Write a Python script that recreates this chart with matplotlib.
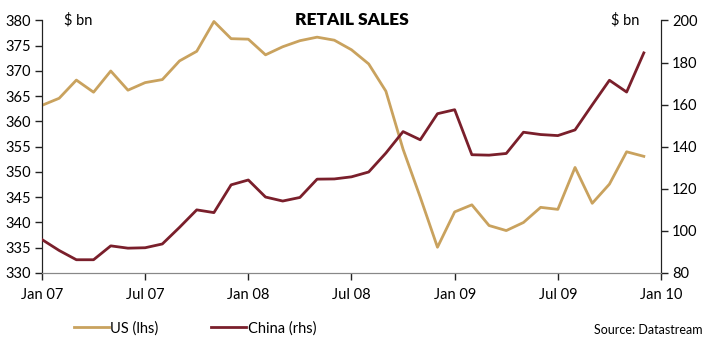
import matplotlib
matplotlib.use("Agg")
import matplotlib.pyplot as plt
from matplotlib.ticker import MultipleLocator, FixedLocator

plt.rcParams['font.family'] = ['Lato', 'DejaVu Sans']

# Monthly retail sales, Jan 2007 - Dec 2009 ($ bn)
months = list(range(36))
us_sales = [363.2, 364.6, 368.2, 365.8, 370.0, 366.2, 367.7, 368.3, 372.0, 373.9,
            379.8, 376.4, 376.3, 373.2, 374.8, 376.0, 376.7, 376.1, 374.2, 371.4,
            366.0, 354.5, 345.0, 335.1, 342.1, 343.5, 339.4, 338.4, 340.0, 343.0,
            342.6, 350.9, 343.8, 347.6, 354.0, 353.1]
china_sales = [95.9, 90.7, 86.3, 86.3, 92.9, 91.8, 92.0, 93.8, 101.7, 110.0,
               108.7, 121.9, 124.2, 116.1, 114.2, 115.9, 124.6, 124.7, 125.7, 128.0,
               137.0, 147.2, 143.3, 155.7, 157.6, 136.2, 136.0, 136.8, 146.9, 145.8,
               145.3, 148.0, 159.9, 171.6, 166.0, 184.6]
tick_pos = [0, 6, 12, 18, 24, 30, 36]
tick_labels = ["Jan 07", "Jul 07", "Jan 08", "Jul 08", "Jan 09", "Jul 09", "Jan 10"]

US_COLOR = "#C9A25E"
CN_COLOR = "#7A1F2B"

fig = plt.figure(figsize=(7.15, 3.45), dpi=100)
ax = fig.add_axes([0.0587, 0.2087, 0.8658, 0.7319])
ax2 = ax.twinx()

l1, = ax.plot(months, us_sales, color=US_COLOR, lw=2.0, label="US (lhs)", zorder=3)
l2, = ax2.plot(months, china_sales, color=CN_COLOR, lw=2.0, label="China (rhs)", zorder=3)

ax.set_xlim(0, 36)
ax.set_ylim(330, 380)
ax2.set_ylim(80, 200)
ax.yaxis.set_major_locator(MultipleLocator(5))
ax2.yaxis.set_major_locator(MultipleLocator(20))
ax.xaxis.set_major_locator(FixedLocator(tick_pos))
ax.set_xticklabels(tick_labels)

for a in (ax, ax2):
    a.spines['top'].set_visible(False)
    a.spines['bottom'].set_color('#888888')
    a.spines['left'].set_color('#222222')
    a.spines['right'].set_color('#222222')
    a.tick_params(axis='both', labelsize=10.5, length=5, width=1, color='#222222',
                  direction='out', pad=3)
ax.tick_params(axis='x', pad=6)

ax.text(0.035, 1.0, "$ bn", transform=ax.transAxes, fontsize=10.5, ha='left', va='center')
ax.text(0.965, 1.0, "$ bn", transform=ax.transAxes, fontsize=10.5, ha='right', va='center')
ax.text(0.5, 1.0, "RETAIL SALES", transform=ax.transAxes, fontsize=12.5,
        fontweight='heavy', ha='center', va='center')

fig.legend(handles=[l1, l2], loc='lower left', bbox_to_anchor=(0.085, -0.01), ncol=2,
           frameon=False, fontsize=10.5, handlelength=2.4, handletextpad=0.1,
           columnspacing=3.6)
fig.text(0.983, 0.025, "Source: Datastream", fontsize=9, ha='right', va='bottom')

fig.savefig("out.png", dpi=100)
